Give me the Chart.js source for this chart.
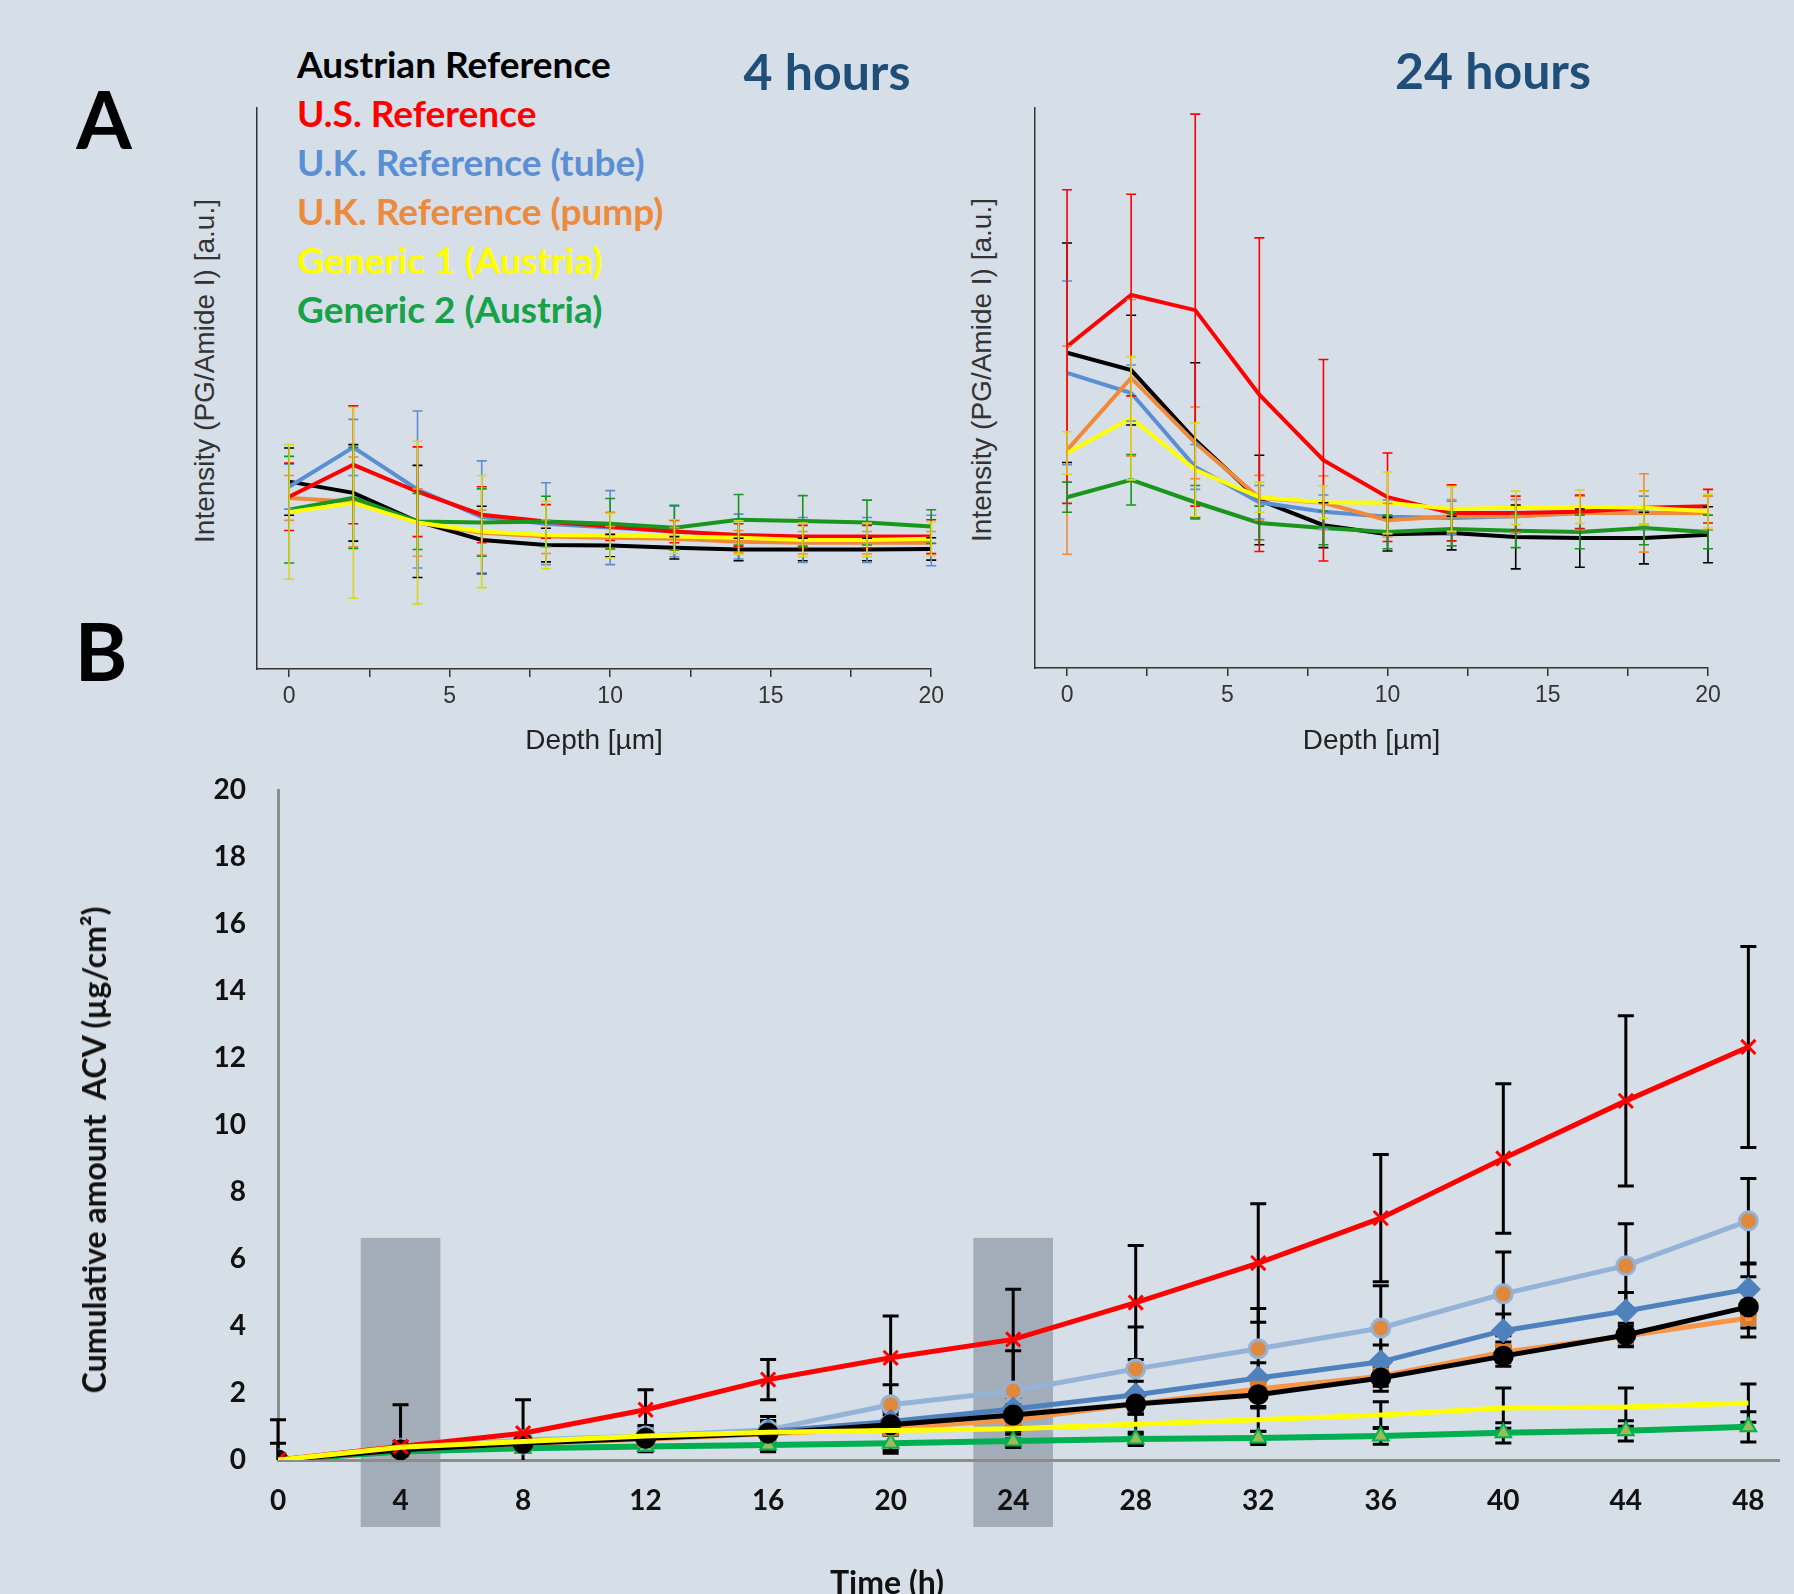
<!DOCTYPE html>
<html>
<head>
<meta charset="utf-8">
<script src="https://cdn.jsdelivr.net/npm/chart.js@4.4.1/dist/chart.umd.min.js"></script>
<style>
  html, body { margin: 0; padding: 0; }
  body { width: 1794px; height: 1594px; overflow: hidden; position: relative; background: #d6dee7; font-family: Lato, 'Open Sans', sans-serif; }
  canvas { position: absolute; }
  .t { position: absolute; white-space: nowrap; line-height: 1; font-weight: bold; }
  .c { transform: translate(-50%, -50%); }
  .l { transform: translate(0, -50%); font-size: 37px; }
  .yt { position: absolute; white-space: nowrap; line-height: 1; font-family: 'Liberation Sans', Arial, sans-serif;
        font-size: 28px; color: #333; transform: translate(-50%, -50%) rotate(-90deg); }
</style>
</head>
<body>
<div class="t c" style="left:104px;top:118px;font-size:80px;color:#000">A</div>
<div class="t c" style="left:101px;top:650px;font-size:80px;color:#000">B</div>
<div class="t c" style="left:827px;top:71px;font-size:50px;color:#1f4e79">4 hours</div>
<div class="t c" style="left:1493px;top:70px;font-size:50px;color:#1f4e79">24 hours</div>

<div class="t l" style="left:297px;top:63px;color:#000">Austrian Reference</div>
<div class="t l" style="left:297px;top:112px;color:#ff0000">U.S. Reference</div>
<div class="t l" style="left:297px;top:161px;color:#5b8fd3">U.K. Reference (tube)</div>
<div class="t l" style="left:297px;top:210px;color:#ec8a3e">U.K. Reference (pump)</div>
<div class="t l" style="left:297px;top:259px;color:#ffff00">Generic 1 (Austria)</div>
<div class="t l" style="left:297px;top:308px;color:#17a24a">Generic 2 (Austria)</div>

<div class="yt" style="left:205px;top:371px">Intensity (PG/Amide I) [a.u.]</div>
<div class="yt" style="left:982px;top:370px">Intensity (PG/Amide I) [a.u.]</div>

<canvas id="chartA1" width="800" height="690" style="left:150px;top:90px"></canvas>
<canvas id="chartA2" width="800" height="690" style="left:930px;top:90px"></canvas>
<canvas id="chartB" width="1794" height="854" style="left:0;top:740px"></canvas>

<div class="t c" style="left:94px;top:1150px;font-size:32px;color:#111;transform:translate(-50%,-50%) rotate(-90deg)">Cumulative amount&nbsp; ACV (µg/cm²)</div>
<div class="t c" style="left:887px;top:1582px;font-size:32px;color:#111">Time (h)</div>

<script>
// ---- panel A: depth profiles (arbitrary units, axis 0..100) ----
const depths = [0, 2, 4, 6, 8, 10, 12, 14, 16, 18, 20];
const depthTicks = [0, 2.5, 5, 7.5, 10, 12.5, 15, 17.5, 20];
const seriesNames = ['Austrian Reference', 'U.S. Reference', 'U.K. Reference (tube)',
  'U.K. Reference (pump)', 'Generic 1 (Austria)', 'Generic 2 (Austria)'];

// 4 hours
const h4Austrian = [33.4, 31.4, 26.3, 23.0, 22.1, 22.0, 21.6, 21.3, 21.3, 21.3, 21.4];
const h4US       = [30.7, 36.4, 31.6, 27.5, 26.3, 25.4, 24.5, 23.9, 23.6, 23.6, 23.6];
const h4UKTube   = [32.5, 39.5, 32.0, 27.1, 25.9, 25.2, 24.5, 23.6, 23.0, 23.0, 22.9];
const h4UKPump   = [30.5, 29.8, 26.1, 24.3, 23.6, 23.4, 23.2, 22.7, 22.5, 22.5, 22.5];
const h4Generic1 = [28.0, 29.6, 26.1, 24.5, 23.9, 23.8, 23.6, 23.4, 23.0, 23.0, 23.2];
const h4Generic2 = [28.4, 30.5, 26.3, 26.1, 26.3, 25.9, 25.2, 26.6, 26.4, 26.1, 25.4];

const h4AustrianErr = [6, 8.6, 10, 6, 3, 2, 2, 2, 2, 2, 2];
const h4USErr       = [6, 10.5, 8, 5, 3, 2.5, 2, 2, 2, 2, 3];
const h4UKTubeErr   = [4, 5, 14, 10, 7.3, 6.6, 4.5, 4, 4, 4, 4.5];
const h4UKPumpErr   = [4, 8, 6, 4, 3, 2, 2, 2, 2, 2, 2];
const h4Generic1Err = [12, 17, 14.5, 10, 6, 4, 3, 3, 3, 3, 3];
const h4Generic2Err = [9.5, 9, 5, 6, 4.5, 4.5, 4, 4.5, 4.5, 4, 3];

// 24 hours
const h24Austrian = [56.3, 53.2, 40.7, 30.0, 25.5, 23.9, 24.1, 23.4, 23.2, 23.2, 23.8];
const h24US       = [57.4, 66.6, 63.9, 48.8, 37.1, 30.5, 27.7, 27.7, 27.9, 28.6, 28.9];
const h24UKTube   = [52.7, 49.1, 35.9, 29.6, 27.9, 27.0, 26.8, 27.1, 27.7, 27.7, 27.7];
const h24UKPump   = [38.9, 51.8, 40.2, 30.4, 29.5, 26.4, 27.1, 27.1, 27.7, 27.7, 27.7];
const h24Generic1 = [38.4, 44.6, 35.4, 30.5, 29.6, 29.5, 28.4, 28.6, 28.8, 28.6, 28.0];
const h24Generic2 = [30.5, 33.6, 29.6, 25.9, 25.0, 24.3, 24.8, 24.5, 24.3, 25.0, 24.3];

const h24AustrianErr = [19.6, 9.8, 13.8, 8, 4, 3, 3, 5.7, 5.2, 4.6, 5];
const h24USErr       = [28, 18, 35, 28, 18, 7.9, 5, 3, 3, 3, 3];
const h24UKTubeErr   = [16.4, 5, 4, 3, 3, 3, 3, 3, 3, 3, 3];
const h24UKPumpErr   = [18.6, 14, 6.4, 4, 4.8, 3, 3, 3, 3, 7, 3];
const h24Generic1Err = [3.8, 11, 8.4, 2.7, 2.9, 5.5, 4, 3, 3, 3, 3];
const h24Generic2Err = [2.7, 4.5, 3, 3, 3, 3, 3, 3, 3, 3, 3];

// ---- panel B: cumulative permeation ----
const hours = [0, 4, 8, 12, 16, 20, 24, 28, 32, 36, 40, 44, 48];
const cumUS        = [0, 0.4, 0.8, 1.5, 2.4, 3.05, 3.6, 4.7, 5.88, 7.22, 9.0, 10.72, 12.33];
const cumLightBlue = [0, 0.35, 0.6, 0.72, 0.9, 1.65, 2.06, 2.72, 3.32, 3.94, 4.96, 5.8, 7.14];
const cumUKTube    = [0, 0.3, 0.5, 0.65, 0.85, 1.15, 1.52, 1.95, 2.45, 2.93, 3.86, 4.45, 5.1];
const cumAustrian  = [0, 0.3, 0.5, 0.65, 0.8, 1.05, 1.34, 1.67, 1.95, 2.45, 3.1, 3.73, 4.57];
const cumUKPump    = [0, 0.3, 0.5, 0.62, 0.78, 0.95, 1.2, 1.67, 2.12, 2.5, 3.22, 3.7, 4.24];
const cumGeneric1  = [0, 0.38, 0.55, 0.72, 0.83, 0.88, 0.93, 1.07, 1.2, 1.34, 1.55, 1.58, 1.7];
const cumGeneric2  = [0, 0.25, 0.35, 0.4, 0.45, 0.5, 0.57, 0.63, 0.66, 0.72, 0.81, 0.87, 0.99];

const errUS        = [1.2, 1.25, 1.0, 0.6, 0.6, 1.25, 1.5, 1.7, 1.77, 1.9, 2.23, 2.54, 3.0];
const errLightBlue = [0, 0.2, 0.2, 0.3, 0.4, 0.6, 1.2, 1.25, 1.2, 1.26, 1.25, 1.25, 1.26];
const errUKTube    = [0, 0.1, 0.15, 0.2, 0.3, 0.3, 0.35, 0.4, 0.45, 0.5, 0.5, 0.55, 0.75];
const errAustrian  = [0.5, 0.1, 0.15, 0.2, 0.3, 0.3, 0.3, 0.3, 0.35, 0.4, 0.3, 0.35, 0.9];
const errUKPump    = [0, 0.1, 0.1, 0.15, 0.2, 0.2, 0.2, 0.3, 0.3, 0.3, 0.3, 0.3, 0.3];
const errGeneric1  = [0, 0.15, 0.2, 0.3, 0.35, 0.6, 0.3, 0.3, 0.35, 0.4, 0.6, 0.57, 0.57];
const errGeneric2  = [0, 0.1, 0.1, 0.15, 0.2, 0.3, 0.2, 0.2, 0.2, 0.25, 0.3, 0.3, 0.45];

// grey boxes marking the 4 h and 24 h sampling points
const markedHours = [4, 24];

const sans = "'Liberation Sans', Arial, sans-serif";
const boldFont = "Lato, 'Open Sans', sans-serif";

function drawErrors(chart, opts) {
  const { ctx, chartArea: a, scales: { x, y } } = chart;
  ctx.save();
  ctx.beginPath();
  ctx.rect(a.left - 20, a.top - 60, a.right - a.left + 40, a.bottom - a.top + 60);
  ctx.clip();
  ctx.lineWidth = opts.width;
  [...chart.data.datasets].reverse().forEach(ds => {
    if (!ds.errors) return;
    ctx.strokeStyle = ds.errorColor || ds.borderColor;
    ds.data.forEach((p, j) => {
      const e = ds.errors[j];
      if (!e) return;
      const px = x.getPixelForValue(p.x);
      const top = y.getPixelForValue(p.y + e);
      const bot = y.getPixelForValue(p.y - e);
      ctx.beginPath();
      ctx.moveTo(px, top); ctx.lineTo(px, bot);
      ctx.moveTo(px - opts.cap, top); ctx.lineTo(px + opts.cap, top);
      ctx.moveTo(px - opts.cap, bot); ctx.lineTo(px + opts.cap, bot);
      ctx.stroke();
    });
  });
  ctx.restore();
}

const errorBars = {
  id: 'errorBars',
  beforeDatasetsDraw(chart, args, opts) { if (!opts.after) drawErrors(chart, opts); },
  afterDatasetsDraw(chart, args, opts) { if (opts.after) drawErrors(chart, opts); }
};

const shadeBoxes = {
  id: 'shadeBoxes',
  beforeDraw(chart) {
    const { ctx, scales: { x, y } } = chart;
    ctx.save();
    ctx.fillStyle = '#a3adb9';
    markedHours.forEach(h => {
      const l = x.getPixelForValue(h - 1.3), r = x.getPixelForValue(h + 1.3);
      const t = y.getPixelForValue(6.63), b = y.getPixelForValue(-2.0);
      ctx.fillRect(l, t, r - l, b - t);
    });
    ctx.restore();
  }
};

const pts = vals => vals.map((v, i) => ({ x: hours[i], y: v }));

function depthChart(id, rows, errs, geo) {
  const colors = ['#000000', '#ff0000', '#5b8fd3', '#f08a3a', '#ffff00', '#1a961e'];
  const order = [4, 5, 1, 3, 2, 0];
  const datasets = order.map(i => ({
    label: seriesNames[i],
    data: depths.map((d, j) => ({ x: d, y: rows[i][j] })),
    errors: errs[i],
    borderColor: colors[i],
    errorColor: colors[i] === '#ffff00' ? '#d8d820' : colors[i],
    borderWidth: 4,
    pointRadius: 0,
    tension: 0
  }));
  return new Chart(document.getElementById(id), {
    type: 'line',
    data: { datasets },
    options: {
      responsive: false, animation: false, events: [], devicePixelRatio: 1,
      layout: { padding: { top: geo.top, right: geo.right, left: 0, bottom: 0 } },
      plugins: { legend: { display: false }, tooltip: { enabled: false },
        errorBars: { after: true, width: 1.6, cap: 5 } },
      scales: {
        x: {
          type: 'linear', min: -1, max: 20,
          afterBuildTicks: s => { s.ticks = depthTicks.map(v => ({ value: v })); },
          afterFit: s => { s.height = geo.xh; },
          ticks: { callback: v => (v % 5 === 0 ? String(v) : ''), autoSkip: false, maxRotation: 0,
            padding: 6, color: '#333', font: { family: sans, size: 23 } },
          grid: { display: true, drawOnChartArea: false, drawTicks: true, tickLength: 8, color: '#333', lineWidth: 1.5 },
          border: { display: true, color: '#333', width: 1.5 },
          title: { display: true, text: 'Depth [µm]', color: '#222',
            font: { family: sans, size: 28 }, padding: { top: 0, bottom: 22 } }
        },
        y: {
          type: 'linear', min: 0, max: 100,
          afterFit: s => { s.width = geo.yw; },
          ticks: { display: false },
          grid: { display: false },
          border: { display: true, color: '#333', width: 1.5 }
        }
      }
    },
    plugins: [errorBars]
  });
}

depthChart('chartA1',
  [h4Austrian, h4US, h4UKTube, h4UKPump, h4Generic1, h4Generic2],
  [h4AustrianErr, h4USErr, h4UKTubeErr, h4UKPumpErr, h4Generic1Err, h4Generic2Err],
  { top: 18, right: 18, xh: 111, yw: 107 });

depthChart('chartA2',
  [h24Austrian, h24US, h24UKTube, h24UKPump, h24Generic1, h24Generic2],
  [h24AustrianErr, h24USErr, h24UKTubeErr, h24UKPumpErr, h24Generic1Err, h24Generic2Err],
  { top: 18, right: 22, xh: 112, yw: 105 });

new Chart(document.getElementById('chartB'), {
  type: 'line',
  data: {
    datasets: [
      { label: 'Generic 1 (Austria)', data: pts(cumGeneric1), errors: errGeneric1,
        borderColor: '#ffff00', borderWidth: 5, pointRadius: 0 },
      { label: 'U.S. Reference', data: pts(cumUS), errors: errUS,
        borderColor: '#ff0000', borderWidth: 5, pointStyle: 'crossRot', pointRadius: 10,
        pointBorderWidth: 3, pointBorderColor: '#ff0000' },
      { label: 'Austrian Reference', data: pts(cumAustrian), errors: errAustrian,
        borderColor: '#000000', borderWidth: 5, pointStyle: 'circle', pointRadius: 8,
        pointBackgroundColor: '#000000', pointBorderColor: '#000000' },
      { label: 'U.K. Reference (pump)', data: pts(cumUKPump), errors: errUKPump,
        borderColor: '#f79646', borderWidth: 5, pointStyle: 'rect', pointRadius: 8,
        pointBackgroundColor: '#f79646', pointBorderColor: '#e07b2a' },
      { label: 'U.K. Reference (tube)', data: pts(cumUKTube), errors: errUKTube,
        borderColor: '#4f81bd', borderWidth: 5, pointStyle: 'rectRot', pointRadius: 9,
        pointBackgroundColor: '#4f81bd', pointBorderColor: '#4f81bd' },
      { label: 'Series 7', data: pts(cumLightBlue), errors: errLightBlue,
        borderColor: '#95b3d7', borderWidth: 5, pointStyle: 'circle', pointRadius: 9,
        pointBackgroundColor: '#e0883c', pointBorderColor: '#95b3d7', pointBorderWidth: 3 },
      { label: 'Generic 2 (Austria)', data: pts(cumGeneric2), errors: errGeneric2,
        borderColor: '#00b050', borderWidth: 6, pointStyle: 'triangle', pointRadius: 9,
        pointBackgroundColor: '#9bbb59', pointBorderColor: '#00b050', pointBorderWidth: 2 }
    ].map(ds => ({ ...ds, errorColor: '#000000', tension: 0 }))
  },
  options: {
    responsive: false, animation: false, events: [], devicePixelRatio: 1,
    layout: { padding: { top: 50, right: 15, left: 0, bottom: 0 } },
    plugins: { legend: { display: false }, tooltip: { enabled: false },
      errorBars: { after: false, width: 3, cap: 8 } },
    scales: {
      x: {
        type: 'linear', min: 0, max: 49,
        afterBuildTicks: s => { s.ticks = hours.map(v => ({ value: v })); },
        afterFit: s => { s.height = 134; },
        ticks: { autoSkip: false, maxRotation: 0, padding: 24, color: '#111',
          font: { family: boldFont, size: 28, weight: 'bold' } },
        grid: { display: false, drawTicks: false },
        border: { display: true, color: '#8c8c8c', width: 3 }
      },
      y: {
        type: 'linear', min: 0, max: 20,
        afterFit: s => { s.width = 278; },
        ticks: { stepSize: 2, padding: 32, color: '#111',
          font: { family: boldFont, size: 28, weight: 'bold' } },
        grid: { display: false, drawTicks: false },
        border: { display: true, color: '#8c8c8c', width: 3 }
      }
    }
  },
  plugins: [shadeBoxes, errorBars]
});
</script>
</body>
</html>
